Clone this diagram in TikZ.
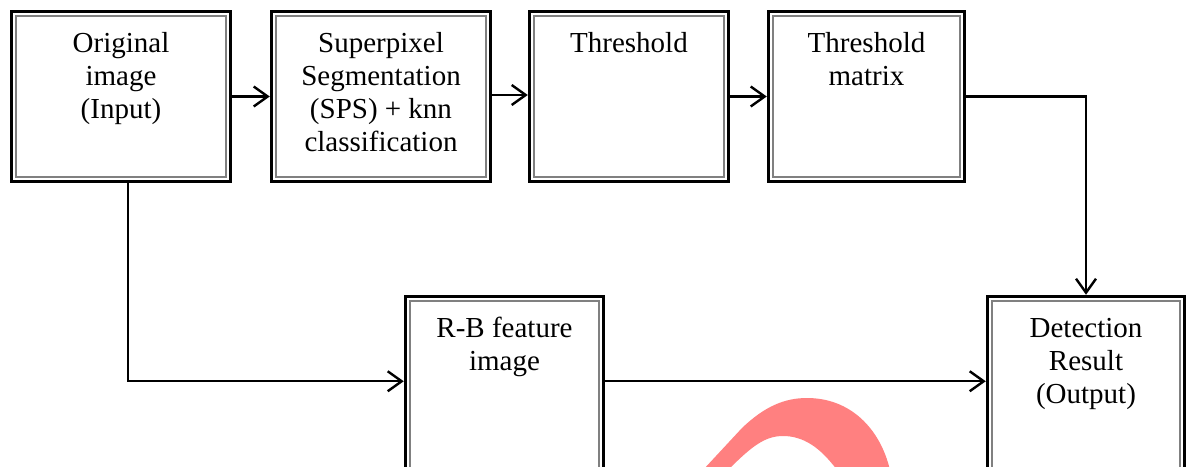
\documentclass[tikz,border=0pt]{standalone}
\usepackage{fontspec}
\setmainfont{Liberation Serif}
\usetikzlibrary{arrows.meta}
\definecolor{markred}{RGB}{255,128,128}

\tikzset{
  stage/.style={draw=black, line width=3.5pt, inner sep=0pt, fill=white,
    path picture={\draw[gray, line width=1.8pt]
      ([xshift=4.8pt,yshift=-4.8pt]path picture bounding box.north west) rectangle
      ([xshift=-4.8pt,yshift=4.8pt]path picture bounding box.south east);}},
  caption/.style={font=\fontsize{29}{33}\selectfont, align=center, anchor=base, inner sep=0pt},
  flow/.style={line width=2.4pt, -{Straight Barb[length=14pt,width=20pt]}}
}

\begin{document}
\begin{tikzpicture}[x=1pt,y=-1pt]
\useasboundingbox (0,0) rectangle (1186,466);
\clip (0,0) rectangle (1186,466);
\fill[white] (0,0) rectangle (1186,466);

% pink arc near the bottom edge
\fill[markred] (703,470) -- (742,428)
  .. controls (765,406) and (785,398) .. (807,398)
  .. controls (850,398) and (880,428) .. (890,470)
  -- (837,470)
  .. controls (820,447) and (803,436) .. (783,436)
  .. controls (765,436) and (752,446) .. (728,470) -- cycle;

% processing stages
\node[stage, minimum width=219pt, minimum height=170pt] (b1) at (121,96.5) {};
\node[stage, minimum width=219pt, minimum height=170pt] (b2) at (381,96.5) {};
\node[stage, minimum width=199pt, minimum height=170pt] (b3) at (629,96.5) {};
\node[stage, minimum width=196pt, minimum height=170pt] (b4) at (866.5,96.5) {};
\node[stage, minimum width=198pt, minimum height=223.5pt] (b5) at (504.5,408.25) {};
\node[stage, minimum width=197pt, minimum height=223.5pt] (b6) at (1086,408.25) {};

% stage labels (anchored at the baseline of their last line)
\node[caption] (t1) at ([yshift=-108.5pt]b1.north) {Original\\image\\(Input)};
\node[caption] (t2) at ([yshift=-141.5pt]b2.north) {Superpixel\\Segmentation\\(SPS) + knn\\classification};
\node[caption] (t3) at ([yshift=-42.5pt]b3.north) {Threshold};
\node[caption] (t4) at ([yshift=-75.5pt]b4.north) {Threshold\\matrix};
\node[caption] (t5) at ([yshift=-75.5pt]b5.north) {R-B feature\\image};
\node[caption] (t6) at ([yshift=-108.5pt]b6.north) {Detection\\Result\\(Output)};

% connectors
\draw[flow] (b1.east) -- (b2.west);
\draw[flow] ([yshift=1.5pt]b2.east) -- ([yshift=1.5pt]b3.west);
\draw[flow] (b3.east) -- (b4.west);
\draw[flow] (b4.east) -| (b6.north);
\draw[flow] ([xshift=7pt]b1.south) |- ([yshift=27pt]b5.west);
\draw[flow] ([yshift=27pt]b5.east) -- ([yshift=27pt]b6.west);
\end{tikzpicture}
\end{document}
